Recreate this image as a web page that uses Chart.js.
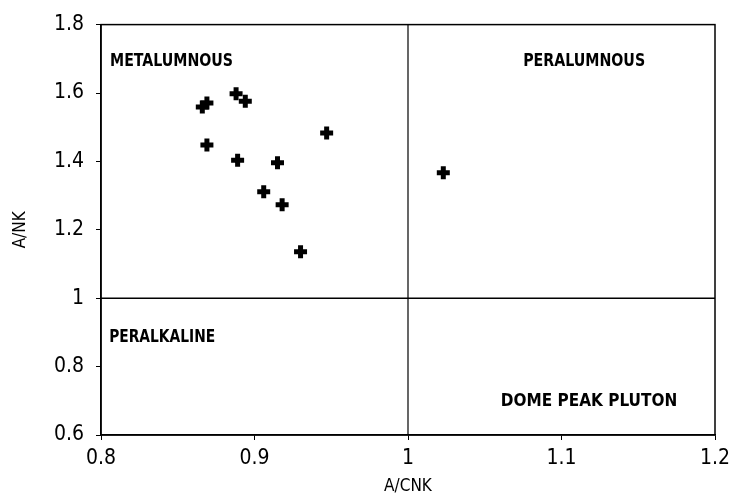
<!DOCTYPE html>
<html>
<head>
<meta charset="utf-8">
<script src="https://cdn.jsdelivr.net/npm/chart.js@4/dist/chart.umd.min.js"></script>
<style>
  html, body { margin: 0; padding: 0; background: #fff; }
  #wrap { width: 739px; height: 497px; position: relative; }
</style>
</head>
<body>
<div id="wrap"><canvas id="c" width="739" height="497"></canvas></div>
<script>
// Dome Peak pluton samples: A/CNK vs A/NK (molar ratios)
const aCNK = [0.866, 0.869, 0.888, 0.894, 0.947, 0.869, 0.889, 0.915, 0.906, 0.918, 0.930, 1.023];
const aNK  = [1.559, 1.571, 1.598, 1.576, 1.483, 1.448, 1.403, 1.396, 1.311, 1.273, 1.136, 1.367];

const xTicks = [0.8, 0.9, 1.0, 1.1, 1.2];
const xTickLabels = ['0.8', '0.9', '1', '1.1', '1.2'];
const yTicks = [0.6, 0.8, 1.0, 1.2, 1.4, 1.6, 1.8];
const yTickLabels = ['0.6', '0.8', '1', '1.2', '1.4', '1.6', '1.8'];

// field divider lines (A/CNK = 1, A/NK = 1)
const dividerX = 1.0;
const dividerY = 1.0;

// field names, anchored at their left edge
const fieldLabels = [
  { text: 'METALUMNOUS', x: 0.8059, y: 1.693, w: 123 },
  { text: 'PERALUMNOUS', x: 1.075, y: 1.693, w: 122 },
  { text: 'PERALKALINE', x: 0.8053, y: 0.884, w: 106 },
  { text: 'DOME PEAK PLUTON', x: 1.0605, y: 0.697, w: 197 }
];

const FONT = '"DejaVu Sans Condensed", "Liberation Sans", sans-serif';

const points = aCNK.map((x, i) => ({ x: x, y: aNK[i] }));

const frameAndLabels = {
  id: 'frameAndLabels',
  afterDatasetsDraw(chart) {
    const { ctx, chartArea: a, scales } = chart;
    ctx.save();
    ctx.strokeStyle = '#000';
    ctx.lineWidth = 1.5;
    ctx.strokeRect(a.left, a.top, a.right - a.left, a.bottom - a.top);
    ctx.fillStyle = '#000';
    ctx.font = 'bold 17px ' + FONT;
    ctx.textBaseline = 'middle';
    ctx.textAlign = 'left';
    fieldLabels.forEach(l => {
      ctx.fillText(l.text, scales.x.getPixelForValue(l.x), scales.y.getPixelForValue(l.y), l.w);
    });
    ctx.restore();
  }
};

new Chart(document.getElementById('c'), {
  type: 'scatter',
  data: {
    datasets: [
      {
        data: points,
        pointStyle: 'cross',
        pointRadius: 6.5,
        pointBorderWidth: 5,
        borderColor: '#000',
        backgroundColor: '#000'
      },
      {
        type: 'line',
        data: [{ x: dividerX, y: 0.6 }, { x: dividerX, y: 1.8 }],
        borderColor: '#000',
        borderWidth: 1.2,
        pointRadius: 0
      },
      {
        type: 'line',
        data: [{ x: 0.8, y: dividerY }, { x: 1.2, y: dividerY }],
        borderColor: '#000',
        borderWidth: 1.5,
        pointRadius: 0
      }
    ]
  },
  options: {
    responsive: false,
    animation: false,
    events: [],
    layout: { padding: { left: 10, top: 20, right: 24, bottom: 0 } },
    plugins: { legend: { display: false }, tooltip: { enabled: false } },
    scales: {
      x: {
        type: 'linear',
        min: 0.8, max: 1.2,
        afterBuildTicks: s => { s.ticks = xTicks.map(v => ({ value: v })); },
        afterFit: s => { s.height = 62; },
        grid: { drawOnChartArea: false, drawTicks: true, tickLength: 5, tickColor: '#000' },
        border: { color: '#000', width: 1.5 },
        ticks: {
          color: '#000',
          padding: 6,
          font: { family: FONT, size: 21 },
          callback: (v, i) => xTickLabels[i]
        },
        title: {
          display: true, text: 'A/CNK', color: '#000',
          font: { family: FONT, size: 17 },
          padding: { top: 0, bottom: 0 }
        }
      },
      y: {
        type: 'linear',
        min: 0.6, max: 1.8,
        afterBuildTicks: s => { s.ticks = yTicks.map(v => ({ value: v })); },
        afterFit: s => { s.width = 91; },
        grid: { drawOnChartArea: false, drawTicks: true, tickLength: 5, tickColor: '#000' },
        border: { color: '#000', width: 1.5 },
        ticks: {
          color: '#000',
          padding: 12,
          font: { family: FONT, size: 21 },
          callback: (v, i) => yTickLabels[i]
        },
        title: {
          display: true, text: 'A/NK', color: '#000',
          font: { family: FONT, size: 17 },
          padding: { top: 0, bottom: 0 }
        }
      }
    }
  },
  plugins: [frameAndLabels]
});
</script>
</body>
</html>
